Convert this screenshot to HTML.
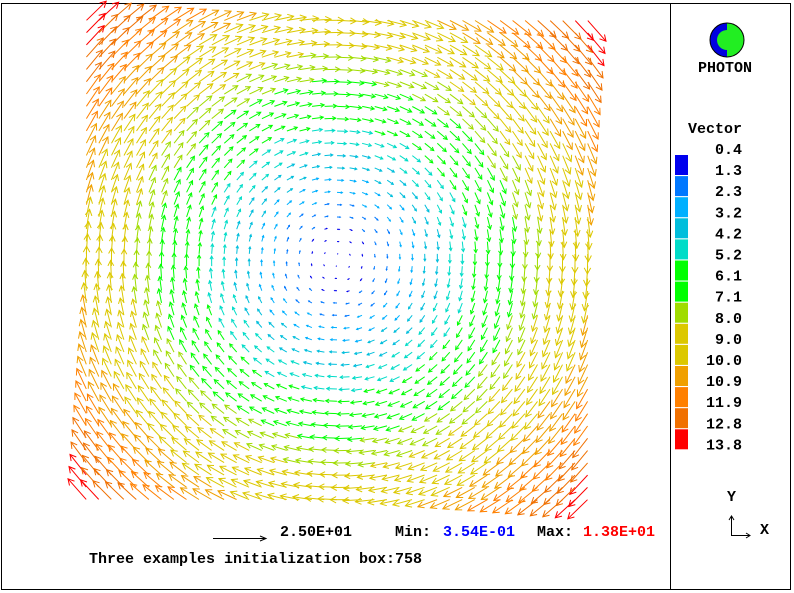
<!DOCTYPE html>
<html><head><meta charset="utf-8"><style>
html,body{margin:0;padding:0;background:#fff;}
svg{display:block;}
text{font-family:"Liberation Mono",monospace;font-weight:bold;font-size:15px;}
</style></head><body>
<svg id="s" width="794" height="593" viewBox="0 0 794 593" xmlns="http://www.w3.org/2000/svg">
<rect x="0" y="0" width="794" height="593" fill="#fff"/>
<rect x="1.5" y="3.5" width="789" height="586" fill="none" stroke="#000" stroke-width="1"/>
<line x1="670.5" y1="3" x2="670.5" y2="590" stroke="#000"/>
<g id="arrows"></g>
<circle cx="727" cy="40" r="17" fill="#22ee22" />
<path d="M727 23 A17 17 0 0 0 727 57 L727 50 A10 10 0 0 1 727 30 Z" fill="#0000e0"/>
<circle cx="727" cy="40" r="17" fill="none" stroke="#000" stroke-width="1"/>
<text x="698" y="72" font-size="12">PHOTON</text>
<text x="688" y="133" font-size="14">Vector</text>
<g id="leg"></g>
<line x1="213" y1="538.5" x2="265" y2="538.5" stroke="#000"/>
<path d="M260 536 L266 538.5 L260 541" fill="none" stroke="#000"/>
<text x="280" y="536">2.50E+01</text>
<text x="395" y="536">Min:</text>
<text x="443" y="536" fill="#0000ff">3.54E-01</text>
<text x="537" y="536">Max:</text>
<text x="583" y="536" fill="#ff0000">1.38E+01</text>
<text x="89" y="563">Three examples initialization box:758</text>
<text x="727" y="501" font-size="11">Y</text>
<line x1="731.5" y1="517" x2="731.5" y2="536" stroke="#000"/>
<line x1="731" y1="535.5" x2="750" y2="535.5" stroke="#000"/>
<path d="M729 520 L731.5 516 L734 520" fill="none" stroke="#000"/>
<path d="M746 533 L750 535.5 L746 538" fill="none" stroke="#000"/>
<text x="760" y="534" font-size="12">X</text>
</svg>
<script>
var cols=["#0000ee","#0078ff","#00b0ff","#00bedc","#00dcc8","#00ff00","#00ff00","#a0dc00","#dcc800","#dcc800","#f0a000","#ff8000","#f07000","#ff0000"];
var labs=["0.4","1.3","2.3","3.2","4.2","5.2","6.1","7.1","8.0","9.0","10.0","10.9","11.9","12.8","13.8"];
var h="";
for(var i=0;i<14;i++){h+='<rect x="675" y="'+(155+i*21.1)+'" width="13" height="20" fill="'+cols[i]+'"/>';}
for(var i=0;i<15;i++){var t=labs[i];var x=742-t.length*9;h+='<text x="'+x+'" y="'+(154+i*21.1)+'">'+t+'</text>';}
document.getElementById("leg").innerHTML=h;
var cx=337,cy=260,sp=12.4,N=41,M=40,a="";
var th=2.3*Math.PI/180,co=Math.cos(th),si=Math.sin(th);
var rc=Math.sqrt(2)*250;
for(var j=0;j<M;j++)for(var i=0;i<N;i++){
 var gx=(i-20)*sp*1.01,gy=(j-19.5)*sp*0.99;
 var dx=gx*co-gy*si,dy=gx*si+gy*co;
 var x=cx+dx,y=cy+dy,r=Math.sqrt(dx*dx+dy*dy);
 var m=13.8*r/rc; if(m>13.8)m=13.8;
 var ci=Math.min(13,Math.max(0,Math.floor((m-0.4)/0.957)));
 var c=cols[ci];
 if(r<1)continue;
 var ux=-dy/r,uy=dx/r,L=28*m/13.8;
 var x0=x-ux*L/2,y0=y-uy*L/2,x1=x+ux*L/2,y1=y+uy*L/2;
 a+='<line x1="'+x0.toFixed(1)+'" y1="'+y0.toFixed(1)+'" x2="'+x1.toFixed(1)+'" y2="'+y1.toFixed(1)+'" stroke="'+c+'" stroke-width="1"/>';
 var hs=Math.min(6,L*0.3),px=-uy,py=ux;
 var bx=x1-ux*hs,by=y1-uy*hs;
 a+='<path d="M'+(bx+px*hs*0.55).toFixed(1)+' '+(by+py*hs*0.55).toFixed(1)+' L'+x1.toFixed(1)+' '+y1.toFixed(1)+' L'+(bx-px*hs*0.55).toFixed(1)+' '+(by-py*hs*0.55).toFixed(1)+'" fill="none" stroke="'+c+'" stroke-width="1"/>';
}
document.getElementById("arrows").innerHTML=a;
</script>
</body></html>
